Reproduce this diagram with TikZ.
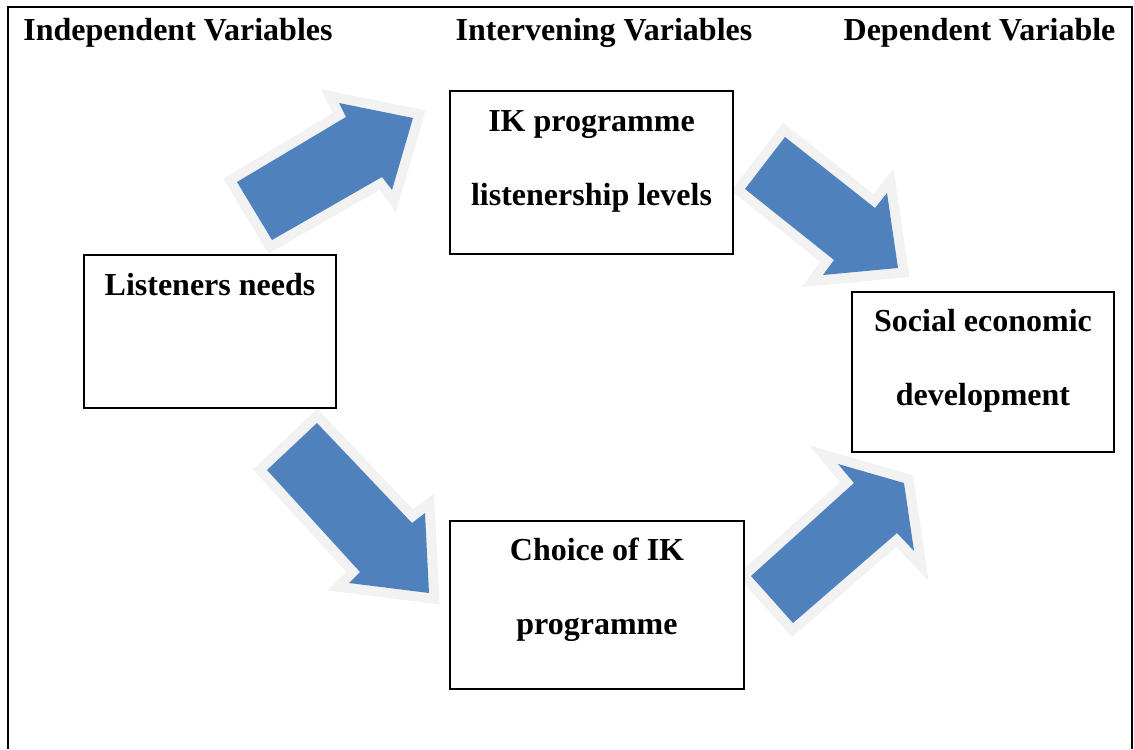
\documentclass[tikz,border=0pt]{standalone}
\usepackage{fontspec}
\setmainfont{Liberation Serif}
\definecolor{arrowblue}{RGB}{79,129,189}
\definecolor{glowgray}{RGB}{242,242,242}
\tikzset{
  box/.style={draw=black, line width=1.5pt, fill=white, inner sep=0pt},
  txt/.style={anchor=base, inner sep=0pt, font=\fontsize{24pt}{28pt}\selectfont\bfseries},
  frame/.style={draw=black, line width=1.6pt},
  glow/.style={draw=glowgray, line width=15pt, line join=miter, miter limit=10},
  blockfill/.style={fill=arrowblue}
}
\newcommand{\blockarrow}[1]{%
  \draw[glow] #1 -- cycle;
  \fill[blockfill] #1 -- cycle;
}
\begin{document}
\begin{tikzpicture}[x=0.75pt, y=-0.75pt]
\useasboundingbox (0,0) rectangle (1134,749);
\fill[white] (0,0) rectangle (1134,749);
\draw[frame] (8,749) -- (8,7) -- (1132,7) -- (1132,749);

% headers
\node[txt] (h1) at (178,41) {Independent Variables};
\node[txt] (h2) at (604,41) {Intervening Variables};
\node[txt] (h3) at (979.5,41) {Dependent Variable};

% arrows
\blockarrow{(237,182) -- (346,117) -- (339,103) -- (413,118) -- (392,190) -- (382,177) -- (272,240)}
\blockarrow{(267,470) -- (317,423) -- (412,523) -- (425,513) -- (429,593) -- (349,583) -- (360,572)}
\blockarrow{(785,137) -- (875,208) -- (887,193) -- (898,268) -- (823,275) -- (834,260) -- (745,189)}
\blockarrow{(751,576) -- (854,483) -- (838,464) -- (904,483) -- (914,551) -- (897,533) -- (793,623)}

% boxes
\node[box, minimum width=212.25pt, minimum height=122.25pt] (ik) at (591.5,172.5) {};
\node[box, minimum width=189pt, minimum height=114.75pt] (ln) at (210,331.5) {};
\node[box, minimum width=196.5pt, minimum height=120pt] (sed) at (983,372) {};
\node[box, minimum width=220.5pt, minimum height=126pt] (ch) at (597,605) {};

% box texts
\node[txt] (ik1) at (591.5,131) {IK programme};
\node[txt] (ik2) at (591.5,205) {listenership levels};
\node[txt] (ln1) at (210,295.5) {Listeners needs};
\node[txt] (sed1) at (983,331.5) {Social economic};
\node[txt] (sed2) at (983,405.5) {development};
\node[txt] (ch1) at (597,560.5) {Choice of IK};
\node[txt] (ch2) at (597,634.5) {programme};
\end{tikzpicture}
\end{document}
